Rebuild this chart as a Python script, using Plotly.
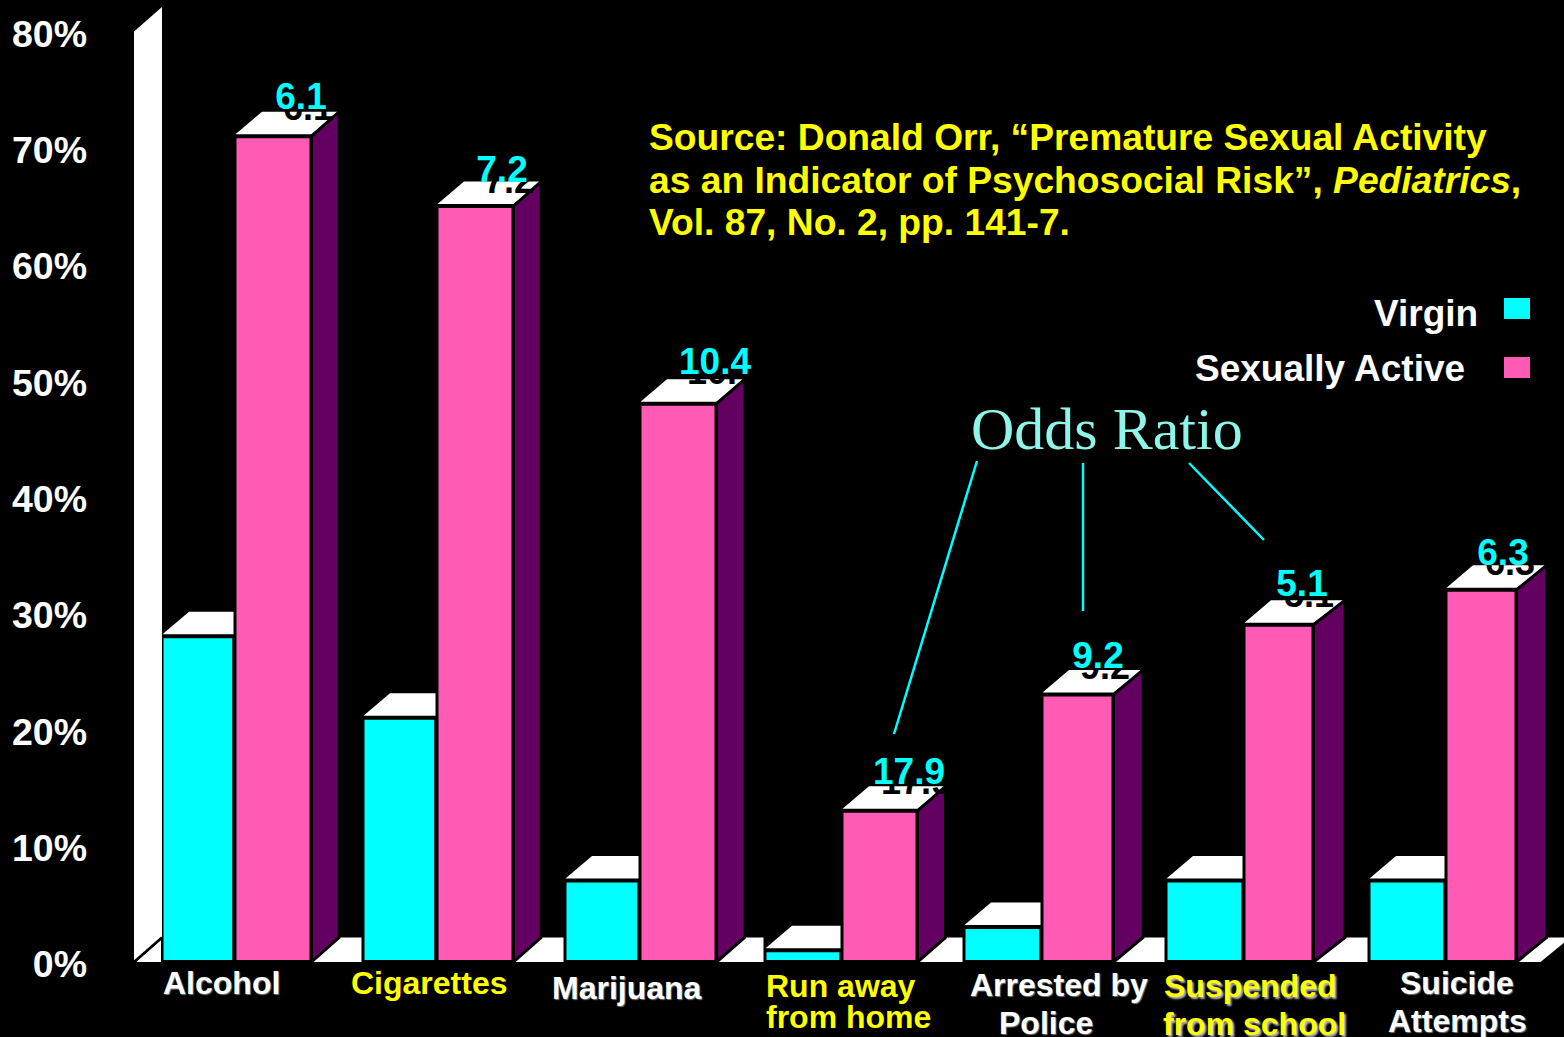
import plotly.graph_objects as go

# ---------- data ----------
categories = ["Alcohol", "Cigarettes", "Marijuana", "Run away from home",
              "Arrested by Police", "Suspended from school", "Suicide Attempts"]
virgin = [28, 21, 7, 1, 3, 7, 7]
sexually_active = [71, 65, 48, 13, 23, 29, 32]
odds_ratio = ["6.1", "7.2", "10.4", "17.9", "9.2", "5.1", "6.3"]
y_ticks = [0, 10, 20, 30, 40, 50, 60, 70, 80]

# ---------- layout helpers (pixel-scaled x axis) ----------
W, H = 1564, 1037
Y0_PX, PX_PER_PCT = 962, 11.63
def vy(px):
    return (Y0_PX - px) / PX_PER_PCT
DX, DY = 27.5, 24.5 / PX_PER_PCT
OUT = 2 / PX_PER_PCT

group_split = [234.5, 436.5, 639.5, 841.5, 1041.5, 1243.5, 1445.5]
virgin_w = [73, 74, 75, 77, 78, 78, 77]
active_w = [77, 77, 77, 76, 72, 70, 71]
side_depth = [27.5, 27.5, 28, 28, 29.5, 31.5, 30]
label_x = [301, 502, 715, 909, 1098, 1302, 1503]
label_lift = [12, 9, 15, 12, 11, 13, 10]

CYAN, PINK, PURPLE = "#00FFFF", "#FF5AB4", "#640062"
YELLOW, ODDS = "#FFFF00", "#8FF5E8"
FONT = "Liberation Sans"

fig = go.Figure()

def poly(polys, color, width=0, line="#000000"):
    xs, ys = [], []
    for p in polys:
        xs += [q[0] for q in p] + [p[0][0], None]
        ys += [q[1] for q in p] + [p[0][1], None]
    fig.add_trace(go.Scatter(x=xs, y=ys, mode="lines", fill="toself", fillcolor=color,
                             line=dict(color=line, width=width), hoverinfo="skip",
                             showlegend=False))

# bars
fig.add_trace(go.Bar(x=group_split, y=virgin, width=virgin_w,
                     offset=[-w for w in virgin_w], name="Virgin",
                     marker=dict(color=CYAN, line=dict(color="#000000", width=4)),
                     hovertext=categories, showlegend=False))
fig.add_trace(go.Bar(x=group_split, y=sexually_active, width=active_w, offset=0,
                     name="Sexually Active",
                     marker=dict(color=PINK, line=dict(color="#000000", width=4)),
                     hovertext=categories, showlegend=False))

# back wall and floor
rights = [s + w for s, w in zip(group_split, active_w)]
lefts = [s - w for s, w in zip(group_split, virgin_w)]
poly([[(134, 0), (134, 80), (134 + DX + 0.5, 80 + DY), (134 + DX + 0.5, DY)]], "#FFFFFF")
floors = [[(136, 0), (161, 0), (161, DY - 0.2)]]
for i, r in enumerate(rights):
    d = side_depth[i]
    next_left = lefts[i + 1] if i + 1 < len(lefts) else r + 55
    floors.append([(r, 0), (r + d, DY), (next_left - 1, DY), (next_left - 1 - (0 if i + 1 < len(lefts) else d), 0)])
poly(floors, "#FFFFFF")
fig.add_trace(go.Scatter(x=[134, 134 + DX + 0.5], y=[0, DY], mode="lines",
                         line=dict(color="#000000", width=2.5), hoverinfo="skip", showlegend=False))

# tops
tops = []
for s, l, v in zip(group_split, lefts, virgin):
    tops.append([(l + 1, v + OUT), (l + DX, v + DY), (s - 1, v + DY), (s - 1, v + OUT)])
poly(tops, "#FFFFFF")
tops = []
for s, r, v, d in zip(group_split, rights, sexually_active, side_depth):
    tops.append([(s + 1, v + OUT), (s + DX, v + DY), (r + d, v + DY), (r, v + OUT)])
poly(tops, "#FFFFFF")

# sides
poly([[(r, 0), (r + d, DY), (r + d, v + DY), (r, v)]
      for r, v, d in zip(rights, sexually_active, side_depth)],
     PURPLE, width=3)

# odds-ratio labels: black one behind, cyan on top
fig.add_trace(go.Scatter(x=[x + 7 for x in label_x],
                         y=[v + DY + (p - 11) / PX_PER_PCT for v, p in zip(sexually_active, label_lift)],
                         mode="text", text=odds_ratio, textposition="middle center",
                         textfont=dict(family=FONT, size=36, color="#000000", weight=700),
                         hoverinfo="skip", showlegend=False))
fig.add_trace(go.Scatter(x=label_x,
                         y=[v + DY + p / PX_PER_PCT for v, p in zip(sexually_active, label_lift)],
                         mode="text", text=odds_ratio, textposition="middle center",
                         textfont=dict(family=FONT, size=37, color=CYAN, weight=700),
                         hoverinfo="skip", showlegend=False))

# text helpers
def txt(x, ypx, text, size=32, color="#FFFFFF", anchor="center", family=FONT, weight=700, shadow=None):
    f = dict(family=family, size=size, color=color, weight=weight)
    if shadow:
        f["shadow"] = shadow
    fig.add_annotation(x=x, y=vy(ypx), xref="x", yref="y", text=text, showarrow=False,
                       xanchor=anchor, yanchor="middle", align="left", font=f)

# category labels
SH = "1px 1px 1px #777777"
txt(221, 983, "Alcohol", shadow=SH)
txt(429, 983, "Cigarettes", color=YELLOW)
txt(627, 988, "Marijuana", shadow=SH)
txt(764, 986, "Run away", color=YELLOW, anchor="left")
txt(764, 1017, "from home", color=YELLOW, anchor="left")
txt(1059, 985, "Arrested by", shadow=SH)
txt(1046, 1023, "Police", shadow=SH)
SY = "2px 2px 2px #BBBBBB"
txt(1162, 986, "Suspended", color=YELLOW, anchor="left", shadow=SY)
txt(1161, 1024, "from school", color=YELLOW, anchor="left", shadow=SY)
txt(1457, 983, "Suicide", shadow=SH)
txt(1457, 1021, "Attempts", shadow=SH)

# source note
txt(647, 137, "Source: Donald Orr, “Premature Sexual Activity", size=37.2, color=YELLOW, anchor="left")
txt(647, 180, "as an Indicator of Psychosocial Risk”, <i>Pediatrics</i>,", size=37.2, color=YELLOW, anchor="left")
txt(647, 222, "Vol. 87, No. 2, pp. 141-7.", size=37.2, color=YELLOW, anchor="left")

# legend
txt(1480, 313, "Virgin", size=37, anchor="right")
txt(1467, 368, "Sexually Active", size=37, anchor="right")
shapes = [
    dict(type="rect", xref="x", yref="y", x0=1504, x1=1530, y0=vy(319), y1=vy(298),
         fillcolor=CYAN, line=dict(width=0)),
    dict(type="rect", xref="x", yref="y", x0=1504, x1=1530, y0=vy(378), y1=vy(357),
         fillcolor=PINK, line=dict(width=0)),
]

# odds ratio callout
txt(1107, 429, "Odds Ratio", size=60, color=ODDS, family="Liberation Serif", weight=400)
for (x0, y0), (x1, y1) in [((977, 461), (894, 734)), ((1083, 463), (1083, 611)), ((1189, 463), (1264, 540))]:
    shapes.append(dict(type="line", xref="x", yref="y", x0=x0, y0=vy(y0), x1=x1, y1=vy(y1),
                       line=dict(color=CYAN, width=2.5)))

fig.update_layout(
    width=W, height=H, margin=dict(l=90, r=0, t=0, b=0, pad=0, autoexpand=False),
    paper_bgcolor="#000000", plot_bgcolor="#000000", barmode="overlay", showlegend=False,
    shapes=shapes,
    xaxis=dict(range=[90, W], visible=False, fixedrange=True),
    yaxis=dict(range=[vy(H), vy(0)], tickvals=y_ticks, ticktext=[f"{t}%" for t in y_ticks],
               showgrid=False, zeroline=False, showline=False, ticks="", fixedrange=True,
               ticklabelshift=2, ticklabelstandoff=2,
               tickfont=dict(family=FONT, size=37.5, color="#FFFFFF", weight=700)),
)

fig.write_html("out.html", config=dict(displayModeBar=False),
               post_script="document.body.style.margin='0';document.body.style.overflow='hidden';")
